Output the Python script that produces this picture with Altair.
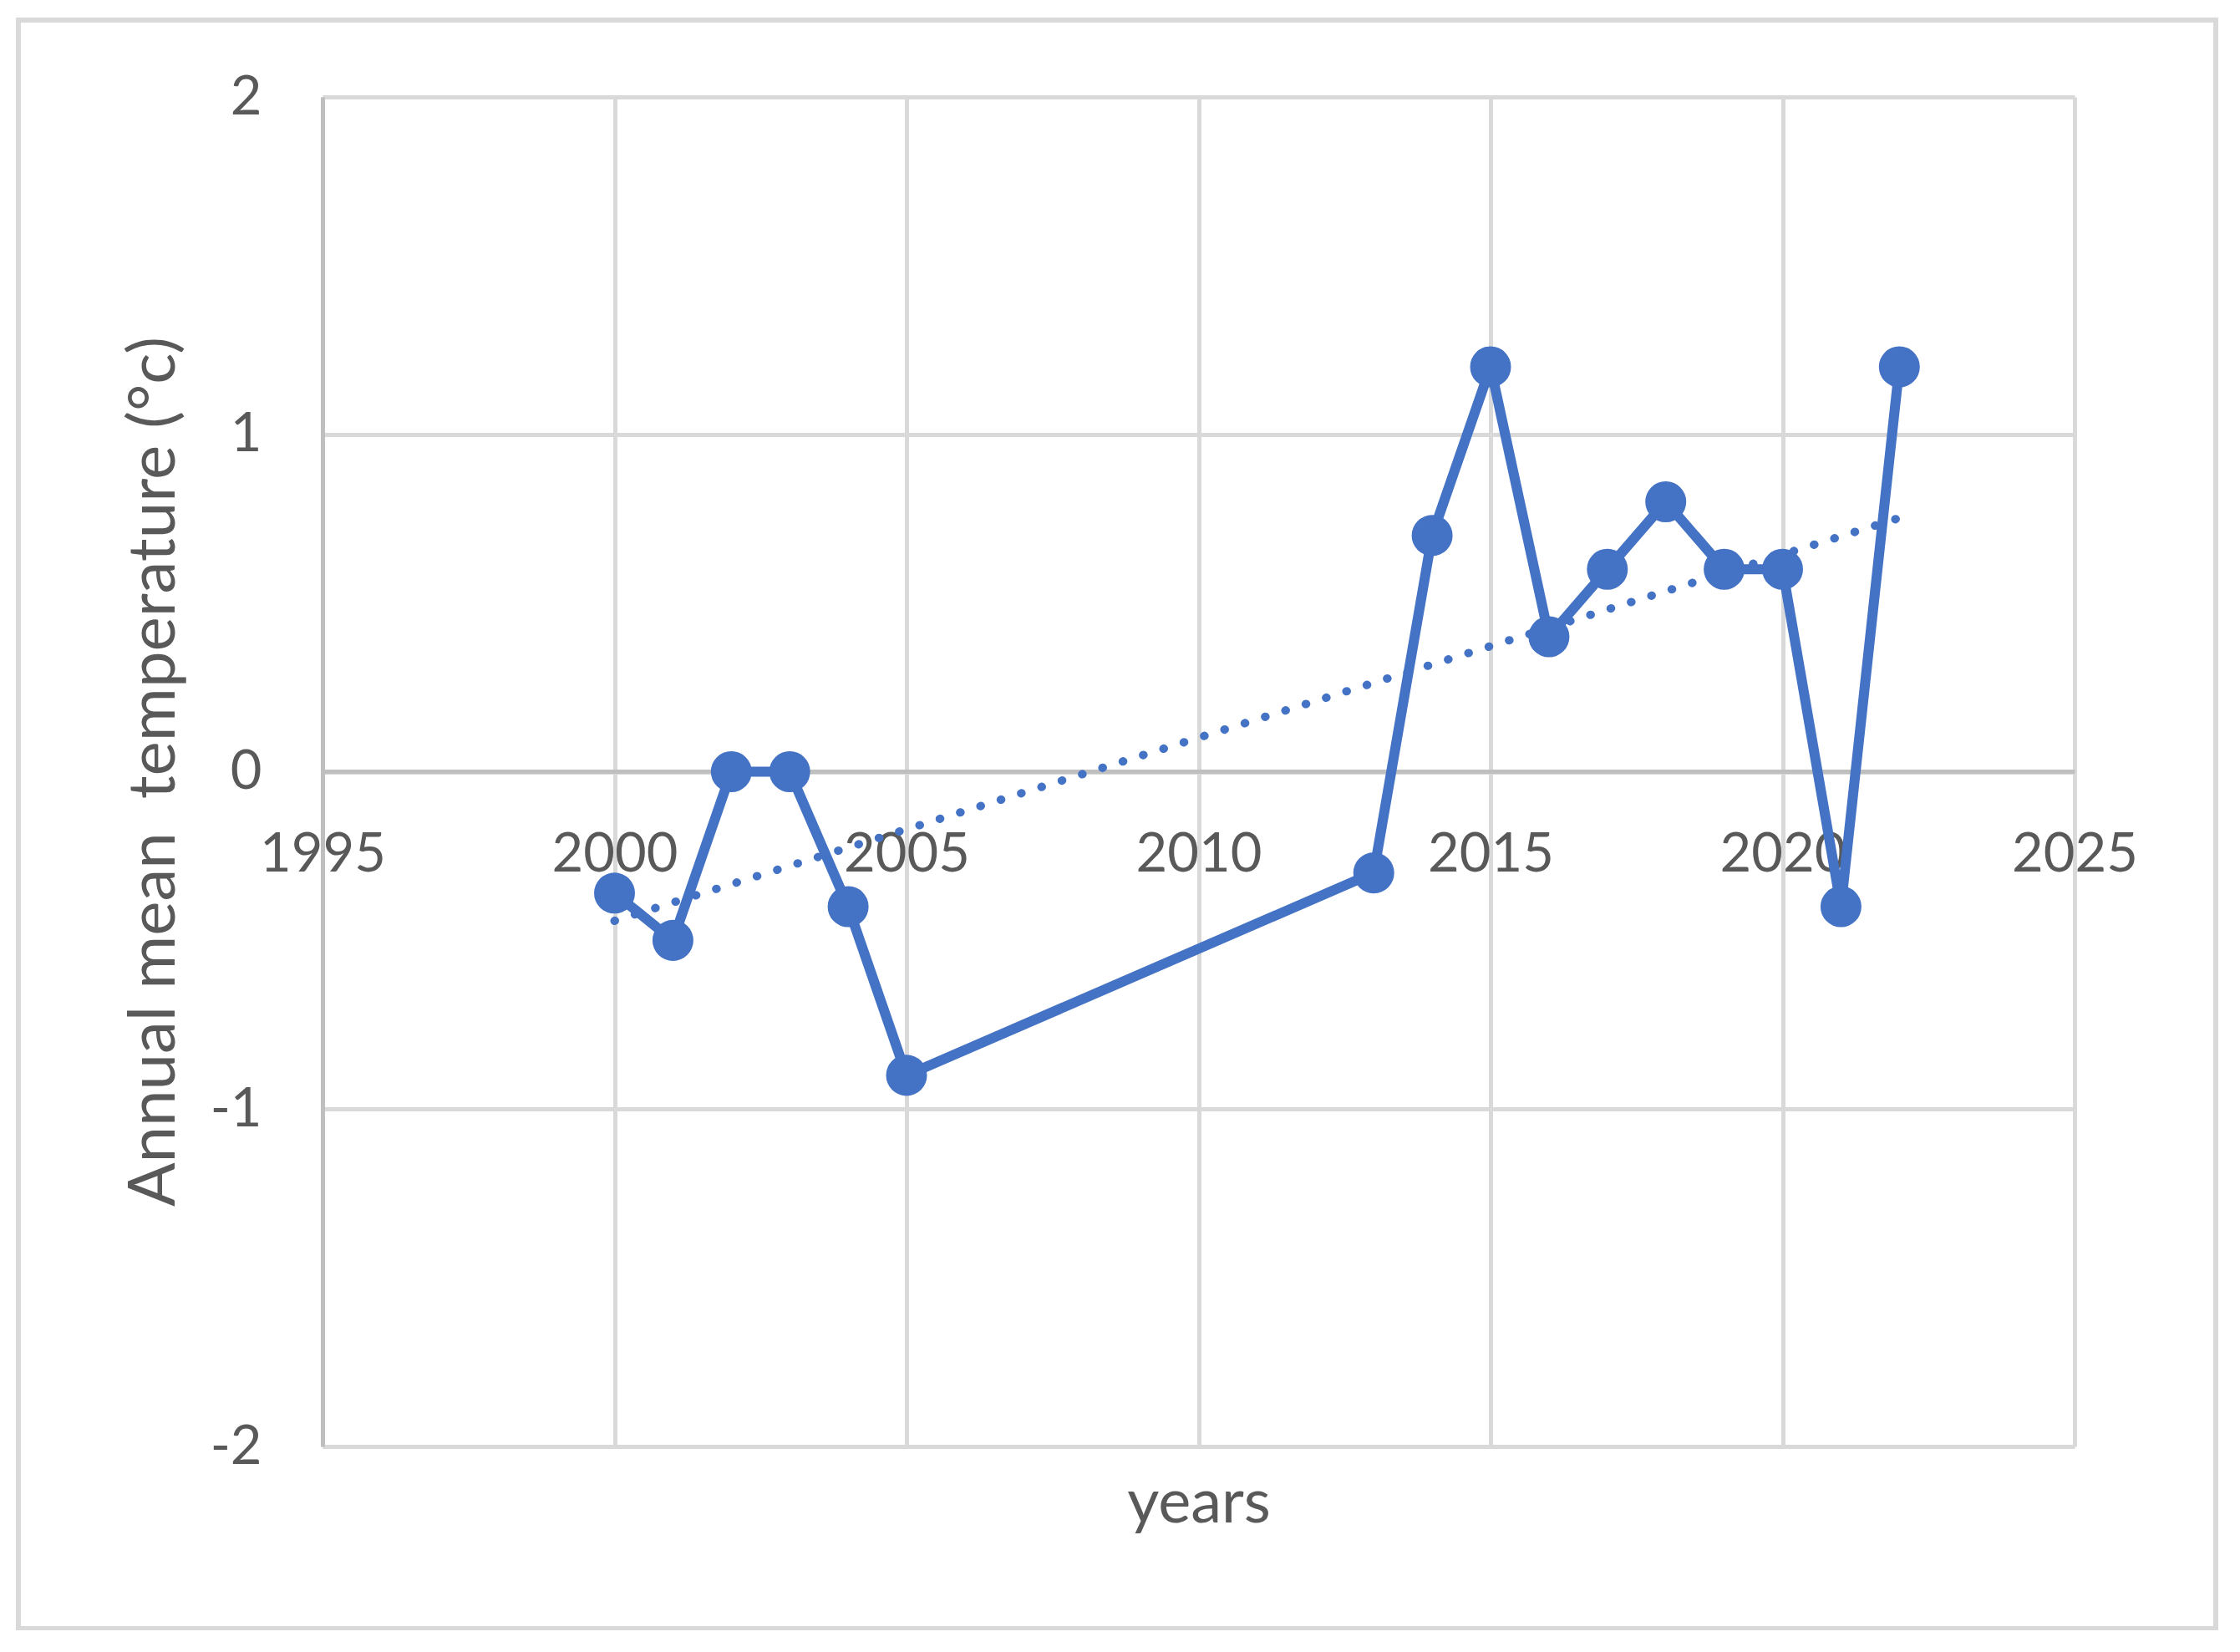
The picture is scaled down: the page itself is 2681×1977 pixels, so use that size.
import altair as alt
import pandas as pd

years = [2000, 2001, 2002, 2003, 2004, 2005, 2013, 2014, 2015, 2016, 2017, 2018, 2019, 2020, 2021, 2022]
temps = [-0.36, -0.5, 0.0, 0.0, -0.4, -0.9, -0.3, 0.7, 1.2, 0.4, 0.6, 0.8, 0.6, 0.6, -0.4, 1.2]
x_ticks = [1995, 2000, 2005, 2010, 2015, 2020, 2025]
y_ticks = [-2, -1, 0, 1, 2]
x_title = "years"
y_title = "Annual mean\u00a0 temperature (°c)"

df = pd.DataFrame({"year": years, "temp": temps})

BLUE = "#4472C4"
TXT = "#595959"
FONT = "Lato"

W, H = 2097, 1615

xscale = alt.Scale(domain=[1995, 2025], nice=False, zero=False)
yscale = alt.Scale(domain=[-2, 2], nice=False)

xaxis = alt.Axis(
    values=x_ticks, format="d", grid=True, gridColor="#D9D9D9", gridWidth=5,
    domain=True, domainColor="#BFBFBF", domainWidth=5, ticks=False,
    labelFont=FONT, labelFontSize=65, labelColor=TXT, labelPadding=68,
    labelFlush=False, labelOverlap=False, offset=-808,
    title=x_title, titleFont=FONT, titleFontSize=74, titleColor=TXT,
    titleFontWeight="normal", titleY=876, titleBaseline="middle",
)
yaxis = alt.Axis(
    values=y_ticks, labelExpr="toString(datum.value)", grid=True, gridColor="#D9D9D9", gridWidth=5,
    domain=True, domainColor="#BFBFBF", domainWidth=5, ticks=False,
    labelFont=FONT, labelFontSize=65, labelColor=TXT, labelPadding=73,
    title=y_title, titleFont=FONT, titleFontSize=78, titleColor=TXT,
    titleFontWeight="normal", titleX=-201, titleY=807, titleAngle=270,
    titleAlign="center", titleBaseline="middle",
)

base = alt.Chart(df)

line = base.mark_line(
    color=BLUE, strokeWidth=12,
    point=alt.OverlayMarkDef(filled=True, color=BLUE, size=2400, opacity=1),
).encode(
    x=alt.X("year:Q", scale=xscale, axis=xaxis),
    y=alt.Y("temp:Q", scale=yscale, axis=yaxis),
)

trend = base.transform_regression("year", "temp").mark_line(
    color=BLUE, strokeWidth=10, strokeDash=[0.5, 25], strokeCap="round",
).encode(
    x=alt.X("year:Q", scale=xscale),
    y=alt.Y("temp:Q", scale=yscale),
)

border = alt.Chart(pd.DataFrame({"a": [0]})).mark_rect(
    filled=False, stroke="#D9D9D9", strokeWidth=6
).encode(
    x=alt.value(-364), x2=alt.value(2266), y=alt.value(-92), y2=alt.value(1833)
)

chart = alt.layer(border, line, trend).properties(
    width=W, height=H,
    padding={"left": 378, "top": 108, "right": 190, "bottom": 220},
    autosize=alt.AutoSizeParams(type="none"),
).configure_view(stroke=None).configure(background="white")

chart.save("out.html", embed_options={"renderer": "svg", "actions": False})
